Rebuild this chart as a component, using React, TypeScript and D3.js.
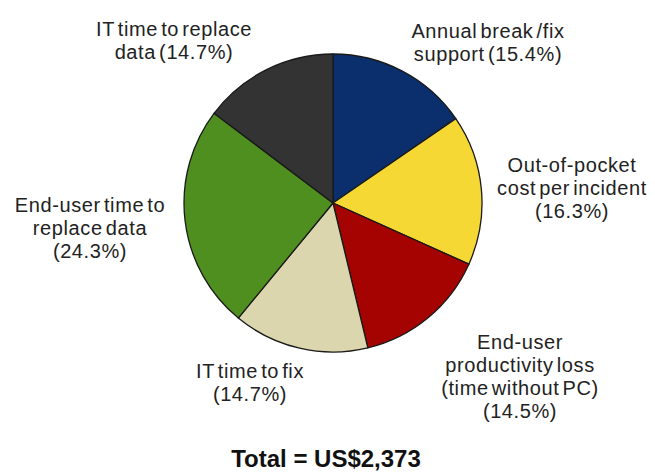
import React from "react";
import * as d3 from "d3";

const categories = [
  "Annual break /fix support",
  "Out-of-pocket cost per incident",
  "End-user productivity loss (time without PC)",
  "IT time to fix",
  "End-user time to replace data",
  "IT time to replace data",
];
const values = [15.4, 16.3, 14.5, 14.7, 24.3, 14.7];
const labelLines = [
  ["Annual break /fix", "support ({p})"],
  ["Out-of-pocket", "cost per incident", "({p})"],
  ["End-user", "productivity loss", "(time without PC)", "({p})"],
  ["IT time to fix", "({p})"],
  ["End-user time to", "replace data", "({p})"],
  ["IT time to replace", "data ({p})"],
];
const totalLabel = "Total = US$2,373";

const colors = ["#0b2f6c", "#f6d835", "#a50202", "#dcd6ae", "#4f8f1f", "#333333"];
// label block centres, relative to the pie centre
const labelOffsets: [number, number][] = [
  [155, -161],
  [239, -15],
  [187, 173],
  [-83, 179],
  [-243, 25],
  [-159, -163],
];

const W = 655;
const H = 473;
const cx = 333;
const cy = 203;
const R = 149;
const lineH = 23;

export default function App() {
  const pie = d3.pie<number>().sort(null).value((d) => d);
  const arcs = pie(values);
  const arc = d3.arc<d3.PieArcDatum<number>>().innerRadius(0).outerRadius(R);
  const fmt = d3.format(".1f");

  return (
    <svg
      width={W}
      height={H}
      style={{ position: "absolute", left: 0, top: 0, background: "#fff" }}
      fontFamily="'Liberation Sans', Arial, sans-serif"
    >
      <g transform={`translate(${cx},${cy})`}>
        {arcs.map((a, i) => (
          <path
            key={categories[i]}
            d={arc(a) || ""}
            fill={colors[i]}
            stroke="#1a1a1a"
            strokeWidth={1.3}
            strokeLinejoin="round"
          />
        ))}
        {arcs.map((a, i) => {
          const lines = labelLines[i].map((l) => l.replace("{p}", fmt(values[i]) + "%"));
          const [ox, oy] = labelOffsets[i];
          const y0 = oy - ((lines.length - 1) * lineH) / 2;
          return (
            <text
              key={"l" + i}
              textAnchor="middle"
              fontSize={20}
              fill="#222"
              letterSpacing={0.6}
              wordSpacing={-3}
            >
              {lines.map((l, j) => (
                <tspan key={j} x={ox} y={y0 + j * lineH} dy="0.36em">
                  {l}
                </tspan>
              ))}
            </text>
          );
        })}
      </g>
      <text
        x={326}
        y={458}
        dy="0.36em"
        textAnchor="middle"
        fontSize={24}
        fontWeight="bold"
        fill="#111"
      >
        {totalLabel}
      </text>
    </svg>
  );
}
